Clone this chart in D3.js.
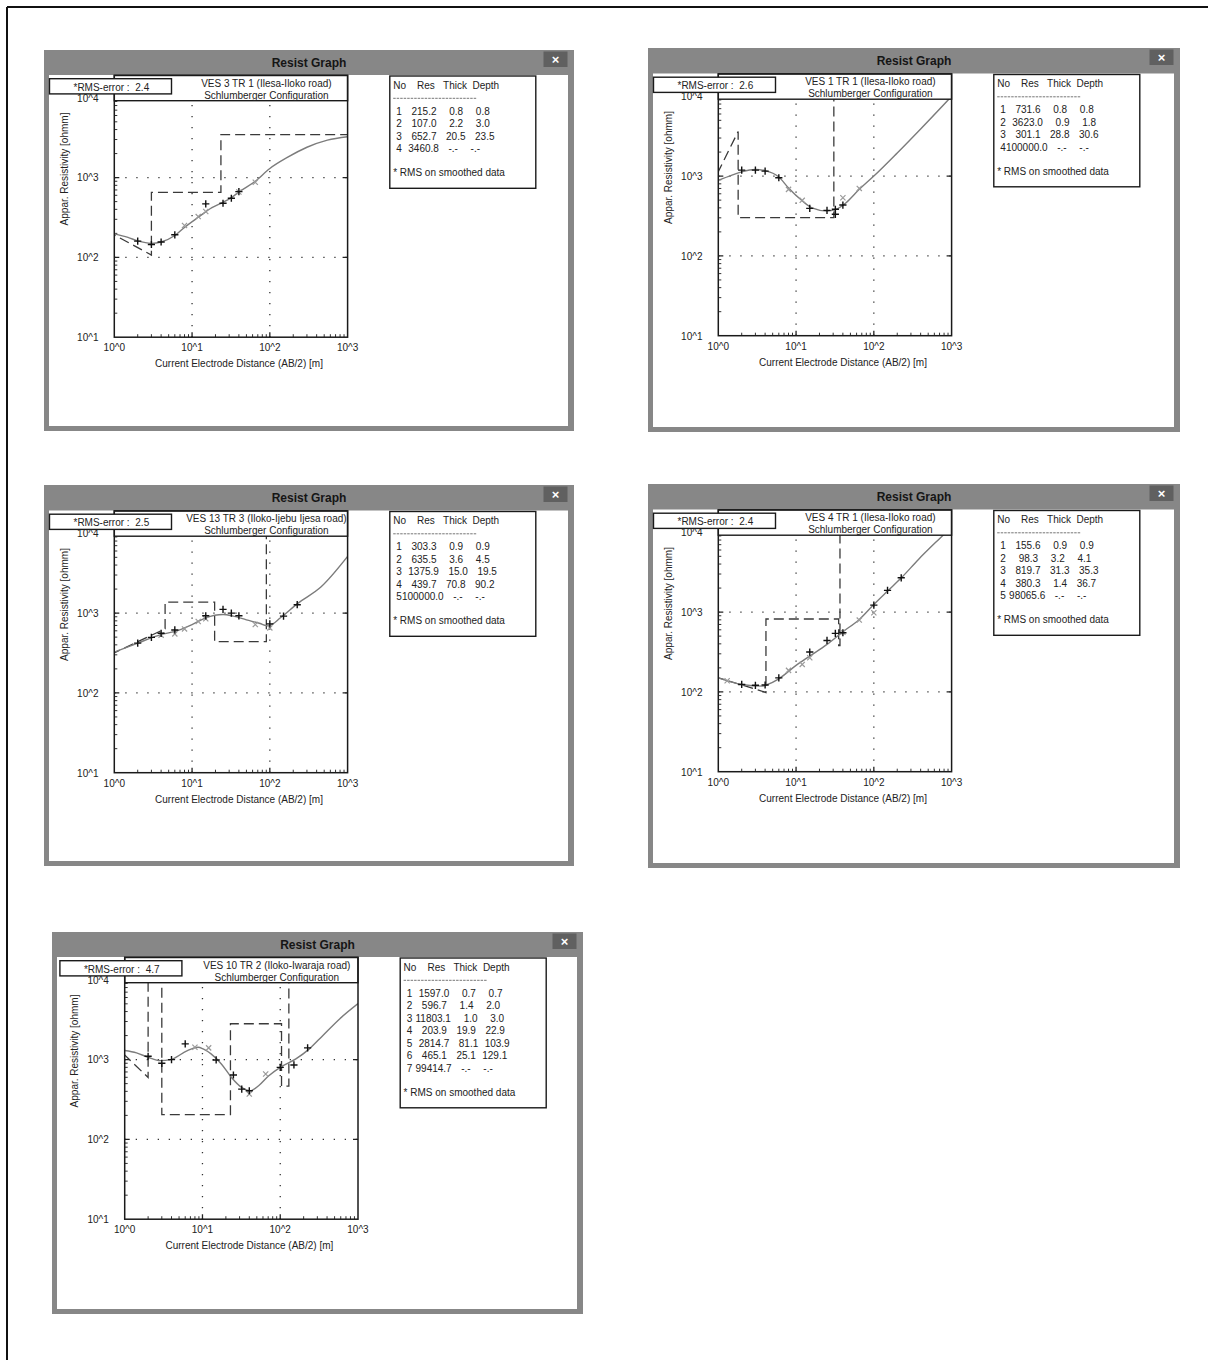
<!DOCTYPE html>
<html><head><meta charset="utf-8">
<script src="https://cdn.jsdelivr.net/npm/d3@7"></script>
<style>
html,body{margin:0;padding:0;background:#fff;}
svg{display:block;font-family:"Liberation Sans",Arial,sans-serif;}
</style></head><body>
<svg id="c" width="1208" height="1360"></svg>
<script>
// ---------- shared axis data ----------
const xTicks = [1, 10, 100, 1000];
const xTickLabels = ["10^0", "10^1", "10^2", "10^3"];
const yTicks = [10, 100, 1000, 10000];
const yTickLabels = ["10^1", "10^2", "10^3", "10^4"];
const xTitle = "Current Electrode Distance (AB/2) [m]";
const yTitle = "Appar. Resistivity [ohmm]";
const windowTitle = "Resist Graph";
const subTitle = "Schlumberger Configuration";
const tableHeader = "No    Res   Thick  Depth";
const tableNote = "* RMS on smoothed data";

// ---------- panel 1 : VES 3 ----------
const p1Title = "VES 3 TR 1 (Ilesa-Iloko road)";
const p1Rms = "2.4";
const p1Res = [215.2, 107.0, 652.7, 3460.8];
const p1Thick = [0.8, 2.2, 20.5];
const p1Depth = [0.8, 3.0, 23.5];
const p1Curve = [[1,197],[1.5,178],[2,161],[3,150],[4,156],[6,188],[8,238],[12,318],[18,420],[25,490],[32,562],[40,660],[65,900],[100,1300],[170,1800],[300,2400],[550,2950],[1000,3250]];
const p1Plus = [[2,160],[3,145],[4,156],[6,192],[15,469],[25,477],[32,551],[40,668]];
const p1Cross = [[8,251],[12,325],[15,376],[40,660],[65,874]];

// ---------- panel 2 : VES 1 ----------
const p2Title = "VES 1 TR 1 (Ilesa-Iloko road)";
const p2Rms = "2.6";
const p2Res = [731.6, 3623.0, 301.1, 100000.0];
const p2Thick = [0.8, 0.9, 28.8];
const p2Depth = [0.8, 1.8, 30.6];
const p2Curve = [[1,884],[1.5,1030],[2,1130],[3,1210],[4,1170],[6,975],[8,710],[12,490],[16,400],[25,365],[32,380],[44,464],[65,682],[100,1000],[200,1950],[400,3900],[1000,10000]];
const p2Plus = [[2,1189],[3,1189],[4,1155],[6,953],[15,394],[25,372],[32,384],[32,332],[40,434]];
const p2Cross = [[8,682],[12,497],[40,536],[65,701]];

// ---------- panel 3 : VES 13 ----------
const p3Title = "VES 13 TR 3 (Iloko-Ijebu Ijesa road)";
const p3Rms = "2.5";
const p3Res = [303.3, 635.5, 1375.9, 439.7, 100000.0];
const p3Thick = [0.9, 3.6, 15.0, 70.8];
const p3Depth = [0.9, 4.5, 19.5, 90.2];
const p3Curve = [[1,324],[2,421],[4,537],[6,590],[10,719],[15,873],[25,962],[34,916],[50,823],[75,740],[90,700],[100,705],[137,873],[226,1313],[457,2133],[1000,5120]];
const p3Plus = [[2,421],[3,497],[4,558],[6,615],[15,925],[25,1112],[32,1000],[40,925],[100,733],[150,916],[225,1275]];
const p3Cross = [[4,530],[6,548],[8,633],[12,785],[15,848],[65,719],[100,652]];

// ---------- panel 4 : VES 4 ----------
const p4Title = "VES 4 TR 1 (Ilesa-Iloko road)";
const p4Rms = "2.4";
const p4Res = [155.6, 98.3, 819.7, 380.3, 98065.6];
const p4Thick = [0.9, 3.2, 31.3, 1.4];
const p4Depth = [0.9, 4.1, 35.3, 36.7];
const p4Curve = [[1,150],[2,124],[3.75,118],[4.14,122],[6,146],[10,215],[15,281],[25,394],[40,567],[65,809],[100,1247],[150,1833],[226,2692],[375,4570],[754,8950],[900,10600]];
const p4Plus = [[2,124],[3,121],[4,122],[6,150],[15,316],[25,441],[32,541],[40,551],[100,1223],[150,1870],[225,2692]];
const p4Cross = [[1.3,138],[8,186],[12,221],[15,268],[40,560],[65,794],[100,981]];

// ---------- panel 5 : VES 10 ----------
const p5Title = "VES 10 TR 2 (Iloko-Iwaraja road)";
const p5Rms = "4.7";
const p5Res = [1597.0, 596.7, 11803.1, 203.9, 2814.7, 465.1, 99414.7];
const p5Thick = [0.7, 1.4, 1.0, 19.9, 81.1, 25.1];
const p5Depth = [0.7, 2.0, 3.0, 22.9, 103.9, 129.1];
const p5Curve = [[1,1298],[1.42,1214],[2,1070],[2.87,971],[3.88,1000],[6.41,1298],[8.77,1430],[10.2,1363],[12.9,1179],[17.5,882],[23.6,598],[31.9,448],[41,407],[52.7,470],[71.3,628],[100,800],[159,1020],[237,1363],[354,2010],[585,3260],[1000,5030]];
const p5Plus = [[2,1101],[3,899],[4,1000],[6,1575],[15,990],[25,641],[32,427],[40,407],[100,800],[150,857],[225,1403]];
const p5Cross = [[8,1430],[12,1403],[40,370],[65,660]];

const panels = [
  {frame:[44,50,530,381],   ox:44,   oy:50,    title:p1Title, rms:p1Rms, res:p1Res, thick:p1Thick, depth:p1Depth, curve:p1Curve, plus:p1Plus, cross:p1Cross},
  {frame:[648,48,532,384],  ox:648,  oy:48.5,  title:p2Title, rms:p2Rms, res:p2Res, thick:p2Thick, depth:p2Depth, curve:p2Curve, plus:p2Plus, cross:p2Cross},
  {frame:[44,485,530,381],  ox:44,   oy:485.5, title:p3Title, rms:p3Rms, res:p3Res, thick:p3Thick, depth:p3Depth, curve:p3Curve, plus:p3Plus, cross:p3Cross},
  {frame:[648,484,532,384], ox:648,  oy:484.5, title:p4Title, rms:p4Rms, res:p4Res, thick:p4Thick, depth:p4Depth, curve:p4Curve, plus:p4Plus, cross:p4Cross},
  {frame:[52,932,531,382],  ox:54.4, oy:932,   title:p5Title, rms:p5Rms, res:p5Res, thick:p5Thick, depth:p5Depth, curve:p5Curve, plus:p5Plus, cross:p5Cross}
];

const svg = d3.select("#c");
// page border (left and top)
svg.append("line").attr("x1",7).attr("y1",7).attr("x2",1208).attr("y2",7).attr("stroke","#111").attr("stroke-width",2);
svg.append("line").attr("x1",7).attr("y1",7).attr("x2",7).attr("y2",1360).attr("stroke","#111").attr("stroke-width",2);

function padL(s, n){ s = String(s); while (s.length < n) s = " " + s; return s; }

function stepModel(res, depth, xEnd){
  const pts = [[depth[0], res[0]], [depth[1], res[1]]];
  for (let k = 1; k < res.length - 1; k++){
    const dk = depth[k];
    const dn = (k + 1 < depth.length) ? depth[k+1] : xEnd;
    pts.push([dk, res[k+1]]);
    pts.push([dn, res[k+1]]);
  }
  return pts;
}

panels.forEach((P, idx) => {
  const [fx, fy, fw, fh] = P.frame;
  const ox = P.ox, oy = P.oy;
  const g = svg.append("g");
  // window frame
  g.append("rect").attr("x",fx).attr("y",fy).attr("width",fw).attr("height",fh).attr("fill","#878787");
  g.append("rect").attr("x",fx+5).attr("y",oy+25).attr("width",fw-11).attr("height",(fy+fh-5)-(oy+25)).attr("fill","#fff");
  g.append("text").attr("x",fx+fw/2).attr("y",fy+17).attr("text-anchor","middle")
    .attr("font-size",12).attr("font-weight","bold").attr("fill","#151515").text(windowTitle);
  const bx = fx + fw - 30.5;
  g.append("rect").attr("x",bx).attr("y",fy+1.5).attr("width",24).attr("height",15.5).attr("fill","#606060");
  g.append("text").attr("x",bx+12).attr("y",fy+13.5).attr("text-anchor","middle").attr("font-size",13)
    .attr("font-weight","bold").attr("fill","#fff").text("\u00d7");

  const x = d3.scaleLog().domain([1,1000]).range([ox+70.3, ox+303.6]);
  const y = d3.scaleLog().domain([10,10000]).range([oy+287.2, oy+47.8]);
  const [xl, xr] = x.range();
  const yb = y(10), yt = y(10000);

  const cid = "clip" + idx;
  svg.append("clipPath").attr("id",cid).append("rect").attr("x",xl).attr("y",yt).attr("width",xr-xl).attr("height",yb-yt);
  const pg = g.append("g").attr("clip-path","url(#"+cid+")");

  // dotted grid
  [10,100].forEach(v => {
    pg.append("line").attr("x1",x(v)).attr("x2",x(v)).attr("y1",yb).attr("y2",oy+25)
      .attr("stroke","#333").attr("stroke-width",1.3).attr("stroke-dasharray","1.3,9.7");
  });
  [100,1000].forEach(v => {
    pg.append("line").attr("x1",xl).attr("x2",xr).attr("y1",y(v)).attr("y2",y(v))
      .attr("stroke","#333").attr("stroke-width",1.3).attr("stroke-dasharray","1.3,9.7");
  });
  // minor ticks
  [1,10,100].forEach(d => { for (let m = 2; m <= 9; m++){
    const v = d*m;
    pg.append("line").attr("x1",x(v)).attr("x2",x(v)).attr("y1",yb).attr("y2",yb-3).attr("stroke","#333").attr("stroke-width",1);
  }});
  [10,100,1000].forEach(d => { for (let m = 2; m <= 9; m++){
    const v = d*m;
    pg.append("line").attr("x1",xl).attr("x2",xl+3).attr("y1",y(v)).attr("y2",y(v)).attr("stroke","#333").attr("stroke-width",1);
  }});
  // major ticks
  [10,100].forEach(v => {
    pg.append("line").attr("x1",x(v)).attr("x2",x(v)).attr("y1",yb).attr("y2",yb-5).attr("stroke","#222").attr("stroke-width",1.3);
  });
  [100,1000].forEach(v => {
    pg.append("line").attr("x1",xl).attr("x2",xl+5).attr("y1",y(v)).attr("y2",y(v)).attr("stroke","#222").attr("stroke-width",1.3);
    pg.append("line").attr("x1",xr-5).attr("x2",xr).attr("y1",y(v)).attr("y2",y(v)).attr("stroke","#222").attr("stroke-width",1.3);
  });

  // layered model (dashed)
  const model = stepModel(P.res, P.depth, 1000);
  pg.append("path").attr("d", d3.line().x(d=>x(d[0])).y(d=>y(d[1]))(model))
    .attr("fill","none").attr("stroke","#3a3a3a").attr("stroke-width",1.3).attr("stroke-dasharray","10,5");
  // calculated curve
  pg.append("path").attr("d", d3.line().x(d=>x(d[0])).y(d=>y(d[1])).curve(d3.curveMonotoneX)(P.curve))
    .attr("fill","none").attr("stroke","#7c7c7c").attr("stroke-width",1.4);
  // smoothed (x) markers
  P.cross.forEach(d => {
    const cx = x(d[0]), cy = y(d[1]), r = 2.6;
    pg.append("path").attr("d",`M${cx-r},${cy-r}L${cx+r},${cy+r}M${cx-r},${cy+r}L${cx+r},${cy-r}`)
      .attr("stroke","#9a9a9a").attr("stroke-width",1.2).attr("fill","none");
  });
  // observed (+) markers
  P.plus.forEach(d => {
    const cx = x(d[0]), cy = y(d[1]), r = 3.6;
    pg.append("path").attr("d",`M${cx-r},${cy}L${cx+r},${cy}M${cx},${cy-r}L${cx},${cy+r}`)
      .attr("stroke","#111").attr("stroke-width",1.4).attr("fill","none");
  });

  // header box
  g.append("rect").attr("x",xl).attr("y",oy+25.4).attr("width",xr-xl).attr("height",25.3)
    .attr("fill","#fff").attr("stroke","#1a1a1a").attr("stroke-width",1.4);
  g.append("text").attr("x",ox+222.4).attr("y",oy+36.8).attr("text-anchor","middle").attr("font-size",10).attr("fill","#222").text(P.title);
  g.append("text").attr("x",ox+222.4).attr("y",oy+48.6).attr("text-anchor","middle").attr("font-size",10).attr("fill","#222").text(subTitle);
  // plot frame
  g.append("rect").attr("x",xl).attr("y",oy+25.4).attr("width",xr-xl).attr("height",yb-(oy+25.4))
    .attr("fill","none").attr("stroke","#1a1a1a").attr("stroke-width",1.5);

  // tick labels
  xTicks.forEach((v,i) => {
    g.append("text").attr("x",x(v)).attr("y",oy+301).attr("text-anchor","middle").attr("font-size",10).attr("fill","#222").text(xTickLabels[i]);
  });
  yTicks.forEach((v,i) => {
    g.append("text").attr("x",ox+54.5).attr("y",y(v)+3.8).attr("text-anchor","end").attr("font-size",10).attr("fill","#222").text(yTickLabels[i]);
  });
  g.append("text").attr("x",ox+195).attr("y",oy+317).attr("text-anchor","middle").attr("font-size",10).attr("fill","#222").text(xTitle);
  g.append("text").attr("transform",`translate(${ox+24},${oy+119}) rotate(-90)`).attr("text-anchor","middle")
    .attr("font-size",10).attr("fill","#222").text(yTitle);

  // RMS box
  g.append("rect").attr("x",ox+5.5).attr("y",oy+28.7).attr("width",122).attr("height",15.2)
    .attr("fill","#fff").attr("stroke","#1a1a1a").attr("stroke-width",1.4);
  g.append("text").attr("x",ox+29.5).attr("y",oy+40.6).attr("font-size",10).attr("fill","#222").text("*RMS-error :");
  g.append("text").attr("x",ox+91.3).attr("y",oy+40.6).attr("font-size",10).attr("fill","#222").text(P.rms);

  // layer table
  const n = P.res.length;
  const tx = ox + 349.2;
  const rowC = i => oy + 60.9 + 12.5*i;
  const noteC = rowC(n-1) + 24.4;
  g.append("rect").attr("x",ox+345.8).attr("y",oy+26).attr("width",146).attr("height",noteC+15.5-(oy+26))
    .attr("fill","#fff").attr("stroke","#1a1a1a").attr("stroke-width",1.4);
  g.append("text").attr("x",tx).attr("y",oy+38.8).attr("font-size",10).attr("fill","#222")
    .style("white-space","pre").text(tableHeader);
  g.append("line").attr("x1",tx).attr("x2",ox+432.7).attr("y1",oy+48.3).attr("y2",oy+48.3)
    .attr("stroke","#777").attr("stroke-width",1).attr("stroke-dasharray","2.5,1");
  P.res.forEach((r,i) => {
    let s = " " + (i+1) + padL(r.toFixed(1), 8);
    if (i < n-1) s += padL(P.thick[i].toFixed(1), 7) + padL(P.depth[i].toFixed(1), 7);
    else s += "   -.-    -.-";
    g.append("text").attr("x",tx).attr("y",rowC(i)+3.6).attr("font-size",10).attr("fill","#222")
      .style("white-space","pre").attr("word-spacing",0.4).text(s);
  });
  g.append("text").attr("x",tx).attr("y",noteC+3.6).attr("font-size",10).attr("fill","#222").text(tableNote);
});
</script>
</body></html>
